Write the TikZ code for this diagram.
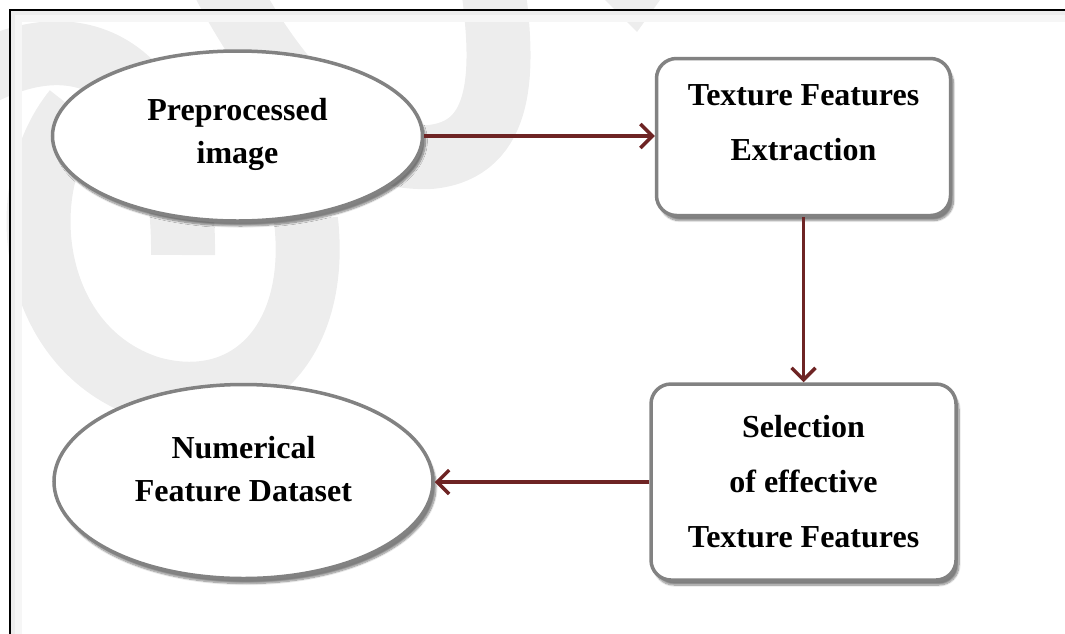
\documentclass[tikz,border=0pt]{standalone}
\usepackage{fontspec}
\setmainfont{Liberation Serif}
\usepackage{tikz}
\usetikzlibrary{shapes.geometric,arrows.meta,shadows.blur}
\definecolor{flowred}{RGB}{110,36,36}
\definecolor{rimgray}{RGB}{130,130,130}
\definecolor{markgray}{RGB}{237,237,237}
\tikzset{
    oval/.style={ellipse, draw=rimgray, line width=3.5pt, fill=white, inner sep=0pt,
        align=center, font=\fontsize{32}{43}\selectfont\bfseries,
        blur shadow={shadow xshift=3pt, shadow yshift=-5pt, shadow blur steps=10, shadow opacity=50}},
    stepbox/.style={rectangle, rounded corners=20pt, draw=rimgray, line width=3.5pt, fill=white,
        inner sep=0pt, align=center, font=\fontsize{32}{55}\selectfont\bfseries,
        blur shadow={shadow xshift=3pt, shadow yshift=-5pt, shadow blur steps=10, shadow opacity=50}},
    flow/.style={draw=flowred, line width=3.5pt, -{Straight Barb[length=12pt, width=24pt, line width=3.5pt]}}
}

\begin{document}
\begin{tikzpicture}[x=1pt, y=-1pt]
    \useasboundingbox (0,0) rectangle (1065,633);
    \clip (0,0) rectangle (1065,633);

    % watermark behind the chart
    \begin{scope}[markgray, line width=64pt]
        \draw (222,-20) .. controls (290,110) and (360,160) .. (430,157) .. controls (505,150) and (505,70) .. (492,-20);
        \draw (-30,80) .. controls (90,10) and (185,80) .. (183,255);
        \draw (75,110) .. controls (10,190) and (30,350) .. (150,388) .. controls (245,415) and (320,345) .. (306,220);
        \fill (605,0) -- (660,0) -- (637,32) -- cycle;
    \end{scope}

    % frame
    \draw [gray!7, line width=10pt] (17,640) -- (17,17) -- (1070,17);
    \draw [gray!14, line width=4pt] (13,640) -- (13,13) -- (1070,13);
    \draw [black, line width=2.5pt] (10,640) -- (10,10) -- (1070,10);

    \node (prep) [oval, minimum width=370pt, minimum height=170pt] at (237.5, 136) {Preprocessed\\image\\[-32pt]\mbox{}};
    \node (tfe) [stepbox, minimum width=294pt, minimum height=157pt] at (803.5, 137) {Texture Features\\Extraction\\[-26pt]\mbox{}};
    \node (sel) [stepbox, minimum width=305pt, minimum height=196pt] at (803.5, 482) {Selection\\of effective\\Texture Features};
    \node (numds) [oval, minimum width=379pt, minimum height=194pt] at (243.5, 481.5) {Numerical\\Feature Dataset\\[-17pt]\mbox{}};

    \draw [flow] (prep.east) -- (tfe.west |- prep.east);
    \draw [flow] (tfe.south) -- (sel.north);
    \draw [flow] (sel.west) -- (numds.east |- sel.west);
\end{tikzpicture}
\end{document}
